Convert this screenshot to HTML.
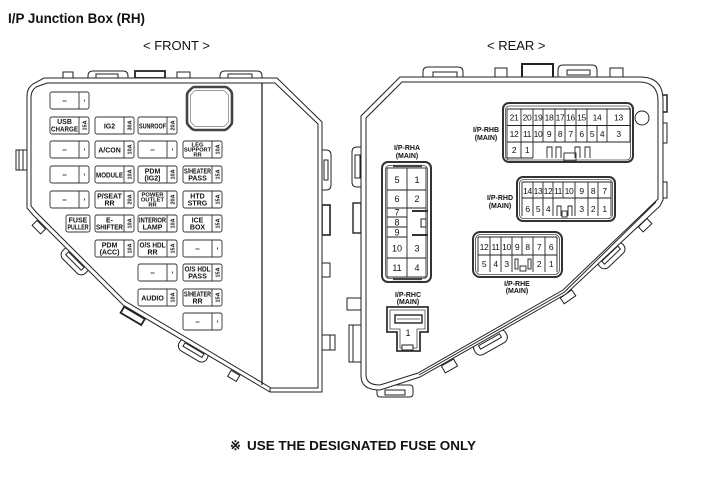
<!DOCTYPE html>
<html><head><meta charset="utf-8"><style>
html,body{margin:0;padding:0;background:#fff;}
svg{display:block;}
text{font-family:"Liberation Sans",Arial,sans-serif;fill:#111;}
.o{fill:none;stroke:#222;stroke-width:1;}
.w{fill:#fff;stroke:#222;stroke-width:1;}
.fu rect{fill:#fff;stroke:#333;stroke-width:0.9;}
.fu line{stroke:#333;stroke-width:0.9;}
.l{font-size:7px;font-weight:bold;text-anchor:middle;}
.l3{font-size:5.8px;font-weight:bold;text-anchor:middle;}
.a{font-size:5.5px;font-weight:bold;text-anchor:middle;}
.n{font-size:9px;text-anchor:middle;}
.nb{font-size:8.5px;text-anchor:middle;letter-spacing:-0.4px;}
.cl{font-size:7px;font-weight:bold;text-anchor:middle;}
.g line{stroke:#222;stroke-width:0.9;}
</style></head><body>
<svg width="703" height="478" viewBox="0 0 703 478" xmlns="http://www.w3.org/2000/svg">
<rect width="703" height="478" fill="#fff"/>
<text x="8" y="23" font-size="13.5" font-weight="bold" textLength="137" lengthAdjust="spacingAndGlyphs">I/P Junction Box (RH)</text>
<text x="143" y="50" font-size="13">&lt; FRONT &gt;</text>
<text x="487" y="50" font-size="13">&lt; REAR &gt;</text>

<!-- ================= FRONT ================= -->
<g class="w">
<rect x="63" y="72" width="10" height="6"/>
<path d="M88 78 L88 76 Q88 71 93 71 L123 71 Q128 71 128 76 L128 78 Z"/>
<rect x="96" y="74" width="22" height="4"/>
<rect x="135" y="71" width="30" height="7" stroke-width="1.8"/>
<rect x="177" y="72" width="13" height="6"/>
<path d="M220 78 L220 76 Q220 71 225 71 L257 71 Q262 71 262 76 L262 78 Z"/>
<rect x="228" y="74" width="24" height="4"/>
<rect x="16" y="150" width="11" height="20"/>
<line x1="19" y1="150" x2="19" y2="170"/>
<line x1="23" y1="150" x2="23" y2="170"/>
<path d="M322 150 L326 150 Q331 150 331 155 L331 185 Q331 190 326 190 L322 190 Z"/>
<rect x="324" y="160" width="4" height="20"/>
<rect x="322" y="205" width="8" height="30" stroke-width="1.6"/>
<rect x="322" y="263" width="8" height="14"/>
<rect x="322" y="335" width="13" height="15"/>
<line x1="330" y1="335" x2="330" y2="350"/>
<g transform="translate(42,224) rotate(45)"><rect x="-6" y="1" width="12" height="7"/></g>
<g transform="translate(77,259) rotate(45)"><rect x="-16" y="-4" width="32" height="14" rx="6"/><rect x="-11" y="1" width="22" height="4"/></g>
<g transform="translate(135,312) rotate(30.6)"><rect x="-12" y="1" width="24" height="7" stroke-width="1.8"/></g>
<g transform="translate(195,347.5) rotate(30.6)"><rect x="-16" y="-3" width="32" height="13" rx="6"/><rect x="-11" y="1" width="22" height="4"/></g>
<g transform="translate(236,372) rotate(30.6)"><rect x="-5" y="1" width="10" height="7"/></g>
</g>
<path class="w" d="M44 78 L277 78 L322 122 L322 392 L270 392 L123 305 L33 215 L27 208 L27 96 Q27 88 33 84 Z"/>
<path class="o" d="M47 83 L275 83 L318 124 L318 388 L271 388 L125 301 L36 212 L31 206 L31 97 Q31 91 36 87 Z"/>
<line x1="262" y1="83" x2="262" y2="385" stroke="#222" stroke-width="1.3"/>
<line x1="270" y1="388" x2="270" y2="392" stroke="#222"/>
<path d="M194 87 L225 87 Q227 87 229 89 L231 91 Q232 93 232 95 L232 122 Q232 124 230 126 L228 128 Q226 130 224 130 L195 130 Q193 130 191 128 L189 126 Q187 124 187 122 L187 95 Q187 93 189 91 L191 89 Q193 87 194 87 Z" fill="#fff" stroke="#444" stroke-width="2.6"/>
<path d="M195 90.5 L224 90.5 L228.5 95 L228.5 122 L224 126.5 L195 126.5 L190.5 122 L190.5 95 Z" fill="none" stroke="#777" stroke-width="0.7"/>

<!-- fuses -->
<g class="fu">
<rect x="50" y="92" width="39" height="17" rx="2"/><line x1="79" y1="92" x2="79" y2="109"/><line x1="62.5" y1="101" x2="66.5" y2="101"/><line x1="84.5" y1="99.5" x2="84.5" y2="101.5"/>
<rect x="50" y="117" width="39" height="17" rx="2"/><line x1="79" y1="117" x2="79" y2="134"/>
<rect x="95" y="117" width="39" height="17" rx="2"/><line x1="124" y1="117" x2="124" y2="134"/>
<rect x="138" y="117" width="39" height="17" rx="2"/><line x1="167" y1="117" x2="167" y2="134"/>
<rect x="50" y="141" width="39" height="17" rx="2"/><line x1="79" y1="141" x2="79" y2="158"/><line x1="62.5" y1="150" x2="66.5" y2="150"/><line x1="84.5" y1="148.5" x2="84.5" y2="150.5"/>
<rect x="95" y="141" width="39" height="17" rx="2"/><line x1="124" y1="141" x2="124" y2="158"/>
<rect x="138" y="141" width="39" height="17" rx="2"/><line x1="167" y1="141" x2="167" y2="158"/><line x1="150.5" y1="150" x2="154.5" y2="150"/><line x1="172.5" y1="148.5" x2="172.5" y2="150.5"/>
<rect x="183" y="141" width="39" height="17" rx="2"/><line x1="212" y1="141" x2="212" y2="158"/>
<rect x="50" y="166" width="39" height="17" rx="2"/><line x1="79" y1="166" x2="79" y2="183"/><line x1="62.5" y1="175" x2="66.5" y2="175"/><line x1="84.5" y1="173.5" x2="84.5" y2="175.5"/>
<rect x="95" y="166" width="39" height="17" rx="2"/><line x1="124" y1="166" x2="124" y2="183"/>
<rect x="138" y="166" width="39" height="17" rx="2"/><line x1="167" y1="166" x2="167" y2="183"/>
<rect x="183" y="166" width="39" height="17" rx="2"/><line x1="212" y1="166" x2="212" y2="183"/>
<rect x="50" y="191" width="39" height="17" rx="2"/><line x1="79" y1="191" x2="79" y2="208"/><line x1="62.5" y1="200" x2="66.5" y2="200"/><line x1="84.5" y1="198.5" x2="84.5" y2="200.5"/>
<rect x="95" y="191" width="39" height="17" rx="2"/><line x1="124" y1="191" x2="124" y2="208"/>
<rect x="138" y="191" width="39" height="17" rx="2"/><line x1="167" y1="191" x2="167" y2="208"/>
<rect x="183" y="191" width="39" height="17" rx="2"/><line x1="212" y1="191" x2="212" y2="208"/>
<rect x="66" y="215" width="24" height="17" rx="2"/>
<rect x="95" y="215" width="39" height="17" rx="2"/><line x1="124" y1="215" x2="124" y2="232"/>
<rect x="138" y="215" width="39" height="17" rx="2"/><line x1="167" y1="215" x2="167" y2="232"/>
<rect x="183" y="215" width="39" height="17" rx="2"/><line x1="212" y1="215" x2="212" y2="232"/>
<rect x="95" y="240" width="39" height="17" rx="2"/><line x1="124" y1="240" x2="124" y2="257"/>
<rect x="138" y="240" width="39" height="17" rx="2"/><line x1="167" y1="240" x2="167" y2="257"/>
<rect x="183" y="240" width="39" height="17" rx="2"/><line x1="212" y1="240" x2="212" y2="257"/><line x1="195.5" y1="249" x2="199.5" y2="249"/><line x1="217.5" y1="247.5" x2="217.5" y2="249.5"/>
<rect x="138" y="264" width="39" height="17" rx="2"/><line x1="167" y1="264" x2="167" y2="281"/><line x1="150.5" y1="273" x2="154.5" y2="273"/><line x1="172.5" y1="271.5" x2="172.5" y2="273.5"/>
<rect x="183" y="264" width="39" height="17" rx="2"/><line x1="212" y1="264" x2="212" y2="281"/>
<rect x="138" y="289" width="39" height="17" rx="2"/><line x1="167" y1="289" x2="167" y2="306"/>
<rect x="183" y="289" width="39" height="17" rx="2"/><line x1="212" y1="289" x2="212" y2="306"/>
<rect x="183" y="313" width="39" height="17" rx="2"/><line x1="212" y1="313" x2="212" y2="330"/><line x1="195.5" y1="322" x2="199.5" y2="322"/><line x1="217.5" y1="320.5" x2="217.5" y2="322.5"/>
</g>

<text class="l" x="64.5" y="124">USB</text>
<text class="l" x="64.5" y="131.5" textLength="27" lengthAdjust="spacingAndGlyphs">CHARGE</text>
<text class="a" transform="translate(84.5,125.5) rotate(-90)" y="2">15A</text>
<text class="l" x="109.5" y="128.5">IG2</text>
<text class="a" transform="translate(129.5,125.5) rotate(-90)" y="2">30A</text>
<text class="l" x="152.5" y="128.5" textLength="27" lengthAdjust="spacingAndGlyphs">SUNROOF</text>
<text class="a" transform="translate(172.5,125.5) rotate(-90)" y="2">20A</text>

<text class="l" x="109.5" y="152.5">A/CON</text>
<text class="a" transform="translate(129.5,149.5) rotate(-90)" y="2">10A</text>
<text class="l3" x="197.5" y="146.5">LEG</text>
<text class="l3" x="197.5" y="151.5" textLength="27" lengthAdjust="spacingAndGlyphs">SUPPORT</text>
<text class="l3" x="197.5" y="156.5">RR</text>
<text class="a" transform="translate(217.5,149.5) rotate(-90)" y="2">10A</text>

<text class="l" x="109.5" y="177.5" textLength="27" lengthAdjust="spacingAndGlyphs">MODULE</text>
<text class="a" transform="translate(129.5,174.5) rotate(-90)" y="2">10A</text>
<text class="l" x="152.5" y="173.3">PDM</text>
<text class="l" x="152.5" y="180.5">(IG2)</text>
<text class="a" transform="translate(172.5,174.5) rotate(-90)" y="2">10A</text>
<text class="l" x="197.5" y="173.3" font-size="6.5" textLength="27" lengthAdjust="spacingAndGlyphs">S/HEATER</text>
<text class="l" x="197.5" y="180.5">PASS</text>
<text class="a" transform="translate(217.5,174.5) rotate(-90)" y="2">15A</text>

<text class="l" x="109.5" y="198.3">P/SEAT</text>
<text class="l" x="109.5" y="205.5">RR</text>
<text class="a" transform="translate(129.5,199.5) rotate(-90)" y="2">20A</text>
<text class="l3" x="152.5" y="196.5">POWER</text>
<text class="l3" x="152.5" y="201.5">OUTLET</text>
<text class="l3" x="152.5" y="206.5">RR</text>
<text class="a" transform="translate(172.5,199.5) rotate(-90)" y="2">20A</text>
<text class="l" x="197.5" y="198.3">HTD</text>
<text class="l" x="197.5" y="205.5">STRG</text>
<text class="a" transform="translate(217.5,199.5) rotate(-90)" y="2">15A</text>

<text class="l" x="78" y="222.3">FUSE</text>
<text class="l" x="78" y="229.5" textLength="21" lengthAdjust="spacingAndGlyphs">PULLER</text>
<text class="l" x="109.5" y="222.3">E-</text>
<text class="l" x="109.5" y="229.5" textLength="27" lengthAdjust="spacingAndGlyphs">SHIFTER</text>
<text class="a" transform="translate(129.5,223.5) rotate(-90)" y="2">10A</text>
<text class="l" x="152.5" y="222.3" font-size="6.5" textLength="27" lengthAdjust="spacingAndGlyphs">INTERIOR</text>
<text class="l" x="152.5" y="229.5">LAMP</text>
<text class="a" transform="translate(172.5,223.5) rotate(-90)" y="2">10A</text>
<text class="l" x="197.5" y="222.3">ICE</text>
<text class="l" x="197.5" y="229.5">BOX</text>
<text class="a" transform="translate(217.5,223.5) rotate(-90)" y="2">15A</text>

<text class="l" x="109.5" y="247.3">PDM</text>
<text class="l" x="109.5" y="254.5">(ACC)</text>
<text class="a" transform="translate(129.5,248.5) rotate(-90)" y="2">10A</text>
<text class="l" x="152.5" y="247.3" textLength="26" lengthAdjust="spacingAndGlyphs">O/S HDL</text>
<text class="l" x="152.5" y="254.5">RR</text>
<text class="a" transform="translate(172.5,248.5) rotate(-90)" y="2">15A</text>

<text class="l" x="197.5" y="271.3" textLength="26" lengthAdjust="spacingAndGlyphs">O/S HDL</text>
<text class="l" x="197.5" y="278.5">PASS</text>
<text class="a" transform="translate(217.5,272.5) rotate(-90)" y="2">15A</text>

<text class="l" x="152.5" y="300.5">AUDIO</text>
<text class="a" transform="translate(172.5,297.5) rotate(-90)" y="2">10A</text>
<text class="l" x="197.5" y="296.3" font-size="6.5" textLength="27" lengthAdjust="spacingAndGlyphs">S/HEATER</text>
<text class="l" x="197.5" y="303.5">RR</text>
<text class="a" transform="translate(217.5,297.5) rotate(-90)" y="2">15A</text>

<!-- ================= REAR ================= -->
<g class="w">
<path d="M423 78 L423 72 Q423 67 428 67 L458 67 Q463 67 463 72 L463 78 Z"/>
<rect x="433" y="72" width="24" height="5"/>
<rect x="495" y="68" width="12" height="10"/>
<rect x="522" y="64" width="31" height="14" stroke-width="2"/>
<path d="M558 78 L558 70 Q558 65 563 65 L592 65 Q597 65 597 70 L597 78 Z"/>
<rect x="567" y="70" width="23" height="5"/>
<rect x="610" y="68" width="13" height="10"/>
<rect x="657" y="95" width="10" height="17" stroke-width="1.5"/>
<rect x="660" y="123" width="7" height="20"/>
<rect x="660" y="182" width="7" height="16"/>
<path d="M361 147 L357 147 Q352 147 352 152 L352 182 Q352 187 357 187 L361 187 Z"/>
<rect x="355" y="155" width="5" height="23"/>
<rect x="353" y="203" width="8" height="30" stroke-width="1.4"/>
<rect x="347" y="298" width="14" height="12"/>
<rect x="349" y="325" width="12" height="37"/>
<line x1="353" y1="325" x2="353" y2="362"/>
<g transform="translate(642,222) rotate(-43.6)"><rect x="-6" y="1" width="12" height="7"/></g>
<g transform="translate(609,253) rotate(-43.6)"><rect x="-16" y="-3" width="32" height="13" rx="6"/><rect x="-11" y="1" width="22" height="4"/></g>
<g transform="translate(566,294) rotate(-35)"><rect x="-7" y="0" width="14" height="7"/></g>
<g transform="translate(488,338) rotate(-29.6)"><rect x="-18" y="-2" width="36" height="14" rx="6"/><rect x="-12" y="2" width="24" height="4"/></g>
<g transform="translate(447,361.6) rotate(-29.6)"><rect x="-7" y="1" width="14" height="8"/></g>
<rect x="377" y="385" width="36" height="12" rx="3"/>
<rect x="385" y="390" width="20" height="5"/>
</g>
<path class="w" d="M400 77 L640 77 Q663 77 663 100 L663 200 L660 206 L566 294 L420 377 L380 390 Q361 390 361 376 L361 116 Z"/>
<path class="o" d="M402 82 L639 82 Q658 82 658 101 L658 199 L563 290 L418 373 L380 385 Q366 385 366 375 L366 118 Z"/>
<path class="o" d="M656 202 L564.5 292 L419 375" stroke-width="0.7"/>

<circle cx="642" cy="118" r="7" fill="#fff" stroke="#222"/>

<!-- I/P-RHA -->
<text class="cl" x="407" y="150">I/P-RHA</text>
<text class="cl" x="407" y="158">(MAIN)</text>
<rect x="382" y="162" width="49" height="120" rx="6" fill="#fff" stroke="#333" stroke-width="2"/>
<rect x="385.5" y="165.5" width="42" height="113" rx="4" fill="none" stroke="#444" stroke-width="0.8"/>
<g class="g">
<rect x="387" y="168" width="39" height="109" fill="none" stroke="#222" stroke-width="0.9"/>
<line x1="407" y1="168" x2="407" y2="277"/>
<line x1="387" y1="190" x2="426" y2="190"/>
<line x1="387" y1="208" x2="426" y2="208"/>
<line x1="387" y1="217" x2="407" y2="217"/>
<line x1="387" y1="227" x2="407" y2="227"/>
<line x1="387" y1="237" x2="407" y2="237"/>
<line x1="387" y1="258" x2="426" y2="258"/>
</g>
<line x1="412" y1="211" x2="428" y2="211" stroke="#333" stroke-width="2"/>
<line x1="412" y1="235" x2="428" y2="235" stroke="#333" stroke-width="2"/>
<rect x="421" y="219" width="5" height="8" fill="#fff" stroke="#222"/>
<line x1="393" y1="166" x2="422" y2="166" stroke="#444" stroke-width="2.2"/>
<line x1="393" y1="279" x2="422" y2="279" stroke="#444" stroke-width="2.2"/>
<text class="n" x="397" y="183">5</text><text class="n" x="417" y="183">1</text>
<text class="n" x="397" y="202">6</text><text class="n" x="417" y="202">2</text>
<text class="n" x="397" y="215.5">7</text>
<text class="n" x="397" y="225.5">8</text>
<text class="n" x="397" y="235.5">9</text>
<text class="n" x="397" y="251.5">10</text><text class="n" x="417" y="251.5">3</text>
<text class="n" x="397" y="271">11</text><text class="n" x="417" y="271">4</text>

<!-- I/P-RHB -->
<text class="cl" x="486" y="132">I/P-RHB</text>
<text class="cl" x="486" y="140">(MAIN)</text>
<rect x="503" y="103" width="130" height="59" rx="6" fill="#fff" stroke="#333" stroke-width="2"/>
<rect x="505.5" y="106" width="125" height="54" rx="4" fill="none" stroke="#444" stroke-width="0.8"/>
<g class="g">
<line x1="507" y1="109" x2="630" y2="109"/>
<line x1="507" y1="109" x2="507" y2="158"/>
<line x1="630" y1="109" x2="630" y2="142"/>
<line x1="507" y1="125.5" x2="630" y2="125.5"/>
<line x1="507" y1="142" x2="630" y2="142"/>
<line x1="507" y1="158" x2="533" y2="158"/>
<line x1="521" y1="109" x2="521" y2="158"/>
<line x1="533" y1="109" x2="533" y2="158"/>
<line x1="543" y1="109" x2="543" y2="142"/>
<line x1="555" y1="109" x2="555" y2="142"/>
<line x1="565" y1="109" x2="565" y2="142"/>
<line x1="576" y1="109" x2="576" y2="142"/>
<line x1="587" y1="109" x2="587" y2="142"/>
<line x1="597" y1="125.5" x2="597" y2="142"/>
<line x1="607" y1="109" x2="607" y2="142"/>
</g>
<g fill="none" stroke="#222" stroke-width="0.9">
<path d="M547 158 L547 147 L552 147 L552 158"/>
<path d="M556 158 L556 147 L561 147 L561 158"/>
<path d="M575 158 L575 147 L580 147 L580 158"/>
<path d="M585 158 L585 147 L590 147 L590 158"/>
<rect x="564" y="153" width="12" height="8"/>
</g>
<text class="nb" x="514" y="120.5">21</text><text class="nb" x="527" y="120.5">20</text><text class="nb" x="538" y="120.5">19</text><text class="nb" x="549" y="120.5">18</text><text class="nb" x="560" y="120.5">17</text><text class="nb" x="570.5" y="120.5">16</text><text class="nb" x="581.5" y="120.5">15</text><text class="nb" x="597" y="120.5">14</text><text class="nb" x="618.5" y="120.5">13</text>
<text class="nb" x="514" y="137">12</text><text class="nb" x="527" y="137">11</text><text class="nb" x="538" y="137">10</text><text class="nb" x="549" y="137">9</text><text class="nb" x="560" y="137">8</text><text class="nb" x="570.5" y="137">7</text><text class="nb" x="581.5" y="137">6</text><text class="nb" x="592" y="137">5</text><text class="nb" x="602" y="137">4</text><text class="nb" x="618.5" y="137">3</text>
<text class="nb" x="514" y="153">2</text><text class="nb" x="527" y="153">1</text>

<!-- I/P-RHD -->
<text class="cl" x="500" y="200">I/P-RHD</text>
<text class="cl" x="500" y="208">(MAIN)</text>
<rect x="517" y="177" width="98" height="44" rx="6" fill="#fff" stroke="#333" stroke-width="2"/>
<rect x="519.5" y="179.5" width="93" height="39" rx="4" fill="none" stroke="#444" stroke-width="0.8"/>
<g class="g">
<line x1="522" y1="182" x2="611" y2="182"/>
<line x1="522" y1="182" x2="522" y2="216"/>
<line x1="611" y1="182" x2="611" y2="216"/>
<line x1="522" y1="198" x2="611" y2="198"/>
<line x1="533" y1="182" x2="533" y2="216"/>
<line x1="543" y1="182" x2="543" y2="216"/>
<line x1="553" y1="182" x2="553" y2="216"/>
<line x1="563" y1="182" x2="563" y2="198"/>
<line x1="575" y1="182" x2="575" y2="216"/>
<line x1="588" y1="182" x2="588" y2="216"/>
<line x1="598" y1="182" x2="598" y2="216"/>
</g>
<g fill="none" stroke="#222" stroke-width="0.9">
<path d="M557 216 L557 206 L561 206 L561 216"/>
<path d="M568 216 L568 206 L572 206 L572 216"/>
<rect x="562" y="211" width="5" height="6"/>
</g>
<text class="nb" x="527.5" y="194">14</text><text class="nb" x="538" y="194">13</text><text class="nb" x="548" y="194">12</text><text class="nb" x="558" y="194">11</text><text class="nb" x="569" y="194">10</text><text class="nb" x="581.5" y="194">9</text><text class="nb" x="593" y="194">8</text><text class="nb" x="604.5" y="194">7</text>
<text class="nb" x="527.5" y="212">6</text><text class="nb" x="538" y="212">5</text><text class="nb" x="548" y="212">4</text><text class="nb" x="581.5" y="212">3</text><text class="nb" x="593" y="212">2</text><text class="nb" x="604.5" y="212">1</text>

<!-- I/P-RHE -->
<rect x="473" y="232" width="89" height="45" rx="7" fill="#fff" stroke="#333" stroke-width="2"/>
<rect x="475.5" y="234.5" width="84" height="40" rx="5" fill="none" stroke="#444" stroke-width="0.8"/>
<g class="g">
<line x1="478" y1="237" x2="557" y2="237"/>
<line x1="478" y1="237" x2="478" y2="272"/>
<line x1="557" y1="237" x2="557" y2="272"/>
<line x1="478" y1="255" x2="557" y2="255"/>
<line x1="490" y1="237" x2="490" y2="272"/>
<line x1="501" y1="237" x2="501" y2="272"/>
<line x1="512" y1="237" x2="512" y2="272"/>
<line x1="522" y1="237" x2="522" y2="255"/>
<line x1="533" y1="237" x2="533" y2="272"/>
<line x1="545" y1="237" x2="545" y2="272"/>
</g>
<g fill="none" stroke="#222" stroke-width="0.9">
<rect x="515" y="259" width="3" height="10"/>
<rect x="528" y="259" width="3" height="10"/>
<rect x="520" y="266" width="6" height="5"/>
</g>
<text class="nb" x="484" y="250">12</text><text class="nb" x="495.5" y="250">11</text><text class="nb" x="506.5" y="250">10</text><text class="nb" x="517" y="250">9</text><text class="nb" x="527.5" y="250">8</text><text class="nb" x="539" y="250">7</text><text class="nb" x="551" y="250">6</text>
<text class="nb" x="484" y="267">5</text><text class="nb" x="495.5" y="267">4</text><text class="nb" x="506.5" y="267">3</text><text class="nb" x="539" y="267">2</text><text class="nb" x="551" y="267">1</text>
<text class="cl" x="517" y="286">I/P-RHE</text>
<text class="cl" x="517" y="293">(MAIN)</text>

<!-- I/P-RHC -->
<text class="cl" x="408" y="297">I/P-RHC</text>
<text class="cl" x="408" y="304">(MAIN)</text>
<path d="M387 307 L428 307 L428 332 L420 332 L420 351 L397 351 L397 332 L387 332 Z" fill="#fff" stroke="#333" stroke-width="1.8"/>
<path d="M390 310 L425 310 L425 329 L417 329 L417 348 L400 348 L400 329 L390 329 Z" fill="none" stroke="#444" stroke-width="0.8"/>
<rect x="395" y="315" width="27" height="8" fill="#fff" stroke="#222" stroke-width="1.4"/>
<line x1="397" y1="319" x2="420" y2="319" stroke="#444" stroke-width="0.7"/>
<rect x="402" y="345" width="11" height="5" fill="#fff" stroke="#222"/>
<text class="n" x="408" y="336">1</text>

<text x="230" y="450" font-size="13" font-weight="bold" font-family="'Liberation Sans','Noto Sans CJK JP',sans-serif">※</text>
<text x="247" y="450" font-size="13.3" font-weight="bold" textLength="229" lengthAdjust="spacingAndGlyphs">USE THE DESIGNATED FUSE ONLY</text>
</svg>
</body></html>
